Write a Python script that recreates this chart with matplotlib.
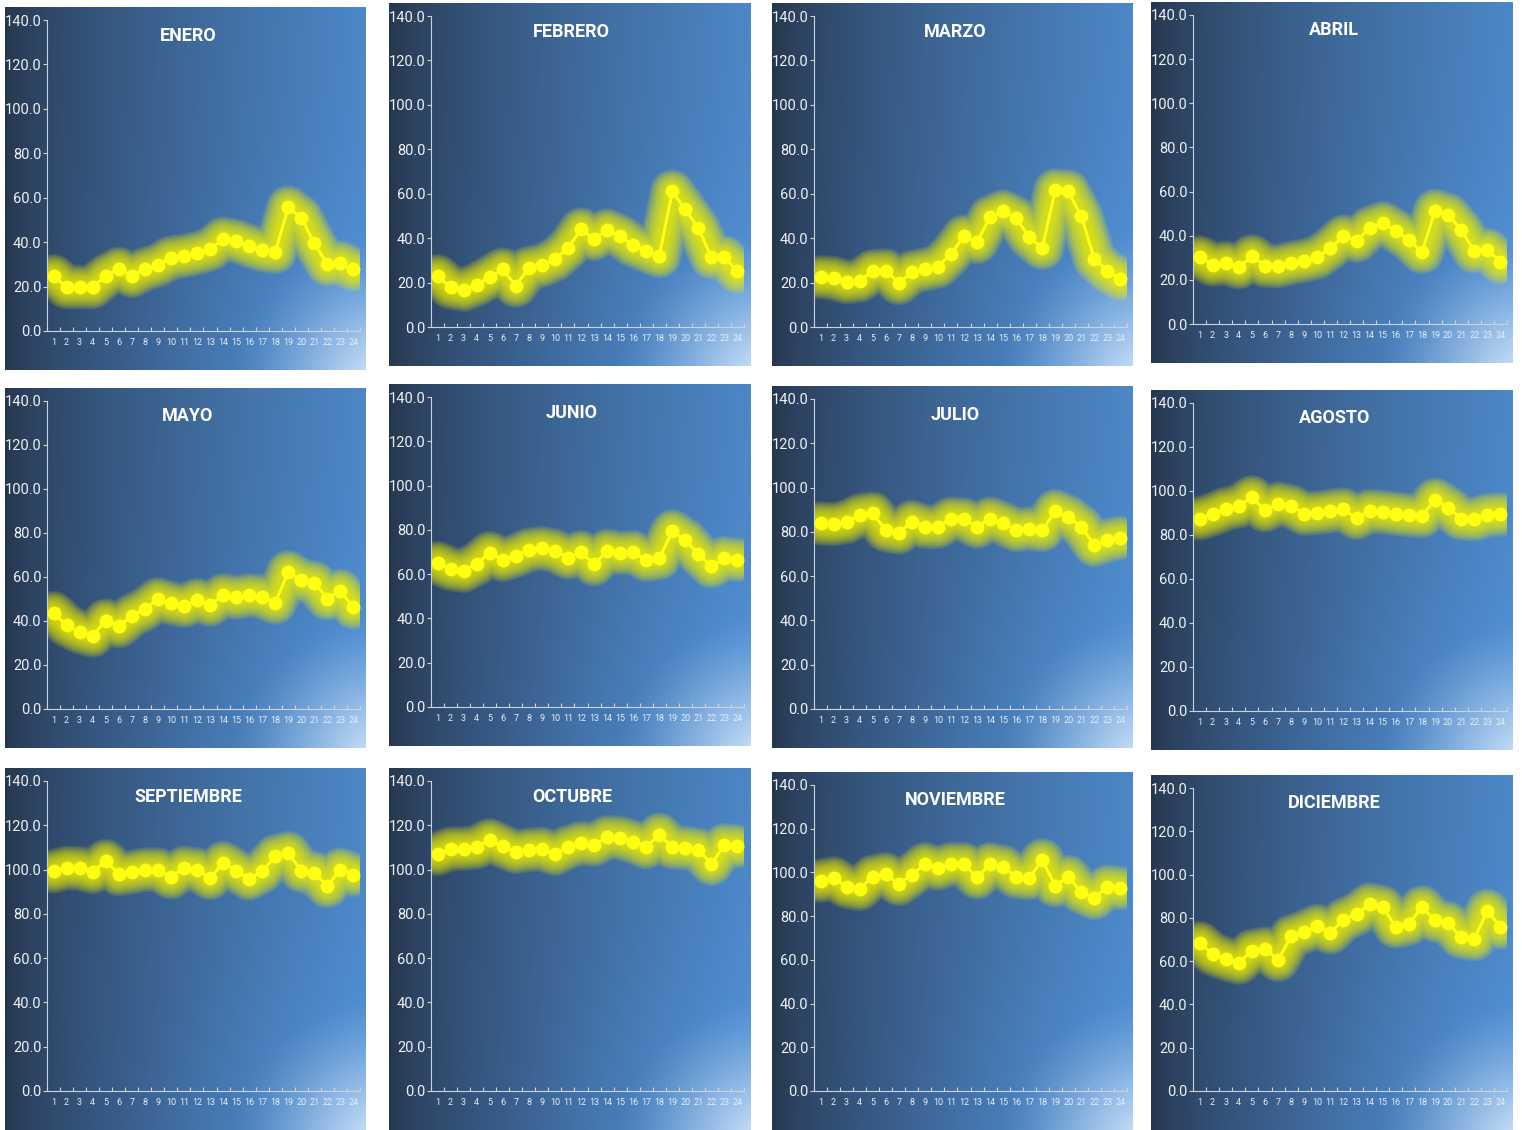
import numpy as np
import matplotlib
matplotlib.use("Agg")
import matplotlib.pyplot as plt

# Hourly values (hours 1-24) for each month
hours = list(range(1, 25))
months = ["ENERO", "FEBRERO", "MARZO", "ABRIL", "MAYO", "JUNIO",
          "JULIO", "AGOSTO", "SEPTIEMBRE", "OCTUBRE", "NOVIEMBRE", "DICIEMBRE"]

enero = [24.7, 19.8, 19.8, 19.8, 24.8, 28.0, 24.8, 27.8, 29.6, 33.0, 33.8, 35.0,
         36.7, 41.6, 40.5, 38.3, 36.4, 35.6, 55.6, 51.0, 39.4, 30.0, 30.8, 27.7]
febrero = [22.9, 17.9, 16.8, 19.1, 22.4, 25.9, 18.6, 26.6, 27.7, 30.4, 35.6, 43.9,
           39.7, 43.5, 40.9, 36.7, 34.4, 31.9, 61.0, 52.9, 44.5, 31.4, 31.4, 25.0]
marzo = [22.4, 22.0, 20.2, 20.9, 25.1, 25.4, 19.8, 24.7, 25.9, 27.2, 32.9, 40.8,
         38.2, 49.5, 52.0, 49.0, 40.5, 35.6, 61.5, 61.0, 49.8, 30.7, 25.1, 21.7]
abril = [30.2, 26.9, 27.7, 25.7, 30.7, 26.5, 26.2, 27.7, 28.7, 30.2, 34.4, 39.7,
         37.7, 43.5, 45.7, 42.3, 38.2, 32.6, 51.3, 49.5, 42.7, 32.9, 33.7, 28.1]
mayo = [43.6, 38.0, 35.0, 33.4, 40.2, 37.6, 42.4, 45.4, 49.9, 48.1, 46.9, 49.5,
        47.4, 51.7, 50.7, 51.7, 51.1, 48.4, 62.2, 58.5, 57.4, 50.2, 53.7, 46.2]
junio = [65.0, 62.4, 61.5, 64.7, 69.5, 66.5, 68.3, 71.0, 71.7, 70.5, 67.5, 69.9,
         64.5, 70.5, 69.5, 69.9, 66.5, 67.2, 79.3, 75.5, 69.0, 63.5, 67.2, 66.5]
julio = [83.8, 83.5, 84.5, 87.5, 88.3, 80.8, 79.7, 84.5, 82.3, 82.3, 86.0, 85.6,
         82.3, 86.0, 83.8, 80.8, 81.5, 80.8, 89.4, 86.8, 82.3, 74.0, 76.2, 77.4]
agosto = [87.5, 89.4, 91.9, 93.1, 97.2, 91.2, 94.2, 93.1, 89.7, 90.1, 90.9, 91.6,
          87.8, 90.9, 90.4, 89.7, 89.0, 88.6, 96.1, 92.4, 87.5, 87.1, 89.0, 89.4]
septiembre = [99.2, 100.8, 100.5, 98.9, 103.8, 98.0, 98.9, 100.0, 100.0, 96.5, 100.8, 100.0,
              96.2, 103.0, 99.5, 95.9, 99.2, 106.0, 107.5, 99.5, 98.5, 92.5, 100.0, 97.7]
octubre = [107.1, 109.5, 109.5, 110.1, 113.3, 110.5, 108.0, 109.0, 109.3, 107.1, 110.1, 112.0,
           111.3, 114.6, 114.3, 112.5, 110.1, 115.8, 110.1, 109.8, 109.0, 102.6, 111.0, 110.5]
noviembre = [96.2, 97.3, 93.5, 92.5, 98.0, 99.2, 94.7, 98.9, 103.8, 101.8, 103.8, 103.8,
             97.7, 103.8, 102.6, 98.0, 97.4, 105.6, 94.0, 98.0, 91.0, 88.3, 93.5, 92.8]
diciembre = [68.4, 63.3, 61.0, 59.3, 64.7, 65.8, 60.6, 71.4, 73.6, 76.3, 73.2, 79.1,
             81.8, 86.2, 85.0, 75.9, 77.3, 85.0, 78.8, 77.6, 71.1, 70.2, 83.3, 75.6]

series = [enero, febrero, marzo, abril, mayo, junio,
          julio, agosto, septiembre, octubre, noviembre, diciembre]
y_ticks = [0, 20, 40, 60, 80, 100, 120, 140]

# Panel rectangles in pixels (left, top, right, bottom)
panels = [
    (5, 7, 366, 370), (389, 3, 750, 366), (772, 3, 1133, 366), (1151, 2, 1513, 363),
    (5, 388, 366, 748), (389, 384, 750, 746), (772, 386, 1133, 748), (1151, 390, 1513, 750),
    (5, 768, 366, 1130), (389, 768, 750, 1130), (772, 772, 1133, 1130), (1151, 775, 1513, 1130),
]

W, H = 1522, 1130
fig = plt.figure(figsize=(W / 100, H / 100), dpi=100)
fig.patch.set_facecolor("white")

narrow = ["Liberation Sans Narrow", "Roboto", "DejaVu Sans"]


def background(n=240):
    xx, yy = np.meshgrid(np.linspace(0, 1, n), np.linspace(0, 1, n))  # yy=0 top
    c0 = np.array([0.15, 0.21, 0.30])
    c1 = np.array([0.30, 0.53, 0.78])
    t = np.clip(xx, 0, 1) ** 0.7
    t = t[..., None]
    img = c0 * (1 - t) + c1 * t
    # slightly brighter blue towards the bottom
    img = img + (yy[..., None] ** 1.5 * 0.06) * np.array([0.2, 0.5, 1.0]) * t
    # bright diffuse light in the lower right corner
    d = np.sqrt((xx - 1.05) ** 2 + (yy - 1.05) ** 2)
    blue = np.clip(1 - d / 0.75, 0, 1) ** 1.5
    img = img * (1 - blue[..., None] * 0.5) + np.array([0.36, 0.62, 0.88]) * blue[..., None] * 0.5
    glow = np.clip(1 - d / 0.42, 0, 1) ** 1.4
    img = img * (1 - glow[..., None] * 0.9) + np.array([0.94, 0.97, 1.0]) * glow[..., None] * 0.9
    return np.clip(img, 0, 1)


bg = background()
glow_c = "#f2f200"
# halo layers: widths from wide to narrow, each adding a little opacity
halo_widths = np.linspace(32, 8, 13)

for name, vals, (l, t, r, b) in zip(months, series, panels):
    bax = fig.add_axes([l / W, 1 - b / H, (r - l) / W, (b - t) / H])
    bax.imshow(bg, aspect="auto", extent=[0, 1, 0, 1], interpolation="bilinear")
    bax.set_axis_off()

    al, ar, at, ab = l + 42, r - 6, t + 13, b - 39
    ax = fig.add_axes([al / W, 1 - ab / H, (ar - al) / W, (ab - at) / H])
    ax.patch.set_alpha(0)
    ax.set_xlim(0.5, 24.5)
    ax.set_ylim(0, 140)

    for lw in halo_widths:
        ax.plot(hours, vals, color=glow_c, lw=lw, alpha=0.13,
                solid_capstyle="round", solid_joinstyle="round", zorder=2)
    ax.plot(hours, vals, color="#ffff14", lw=2.2, marker="o", ms=9,
            mec="#ffff14", mfc="#ffff14", zorder=3)

    ax.set_yticks(y_ticks)
    ax.set_yticklabels([f"{v:.1f}" for v in y_ticks])
    ax.set_xticks(hours)
    ax.set_xticklabels([str(h) for h in hours])
    ax.set_xticks(np.arange(0.5, 25, 1), minor=True)

    for s in ["top", "right"]:
        ax.spines[s].set_visible(False)
    for s in ["left", "bottom"]:
        ax.spines[s].set_color("#c9d3df")
        ax.spines[s].set_linewidth(0.8)

    ax.tick_params(axis="y", colors="#c9d3df", labelcolor="#eef2f7", length=3,
                   width=0.8, pad=1, labelsize=10.5)
    ax.tick_params(axis="x", which="major", length=0, pad=5, labelsize=6.5,
                   labelcolor="#e6ecf3")
    ax.tick_params(axis="x", which="minor", direction="in", length=3, width=0.8,
                   colors="#c9d3df")
    for lab in ax.get_yticklabels() + ax.get_xticklabels():
        lab.set_family(narrow)

    ax.text(0.45, 0.95, name, transform=ax.transAxes, ha="center", va="center",
            color="white", fontsize=13, fontweight="bold", family=narrow)

fig.savefig("out.png", dpi=100, facecolor="white")
